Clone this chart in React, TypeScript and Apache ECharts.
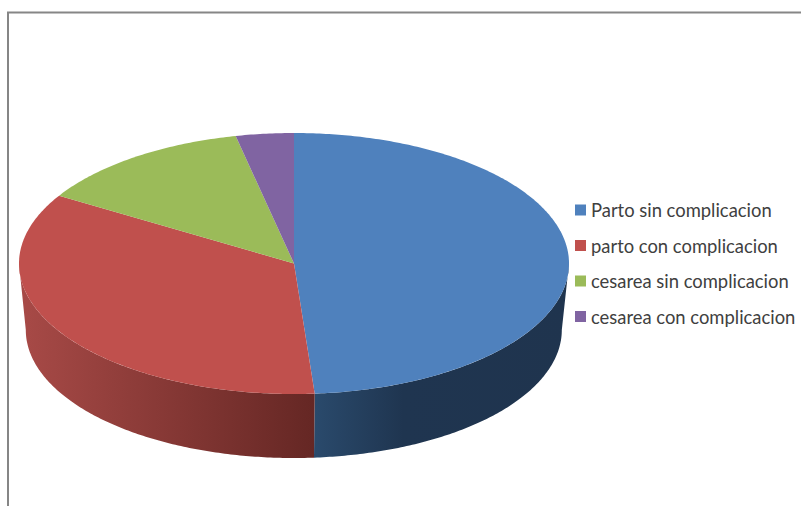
import React, { useEffect, useRef } from "react";
import * as echarts from "echarts";

const categories = [
  "Parto sin complicacion",
  "parto con complicacion",
  "cesarea sin complicacion",
  "cesarea con complicacion",
];
const values = [48.8, 34.9, 12.9, 3.4];
const colors = ["#4F81BD", "#C0504D", "#9BBB59", "#8064A2"];
const wallStops = [
  [[0, "#2A4A6C"], [0.35, "#1F3550"], [1, "#1F344E"]],
  [[0, "#A84A47"], [1, "#652724"]],
  [[0, "#7A8E44"], [1, "#7A8E44"]],
  [[0, "#5F4A7A"], [1, "#5F4A7A"]],
];

const TOP = { cx: 294, cy: 263.5, rx: 275, ry: 130.5 };
const BOTTOM = { cx: 293.8, cy: 330, rx: 268, ry: 128 };
const total = values.reduce((a, b) => a + b, 0);

function pt(e: typeof TOP, deg: number) {
  const r = (deg * Math.PI) / 180;
  return [e.cx + e.rx * Math.sin(r), e.cy - e.ry * Math.cos(r)];
}
function arc(e: typeof TOP, a: number, b: number) {
  const n = Math.max(2, Math.ceil(Math.abs(b - a) * 1.5));
  const out: number[][] = [];
  for (let i = 0; i <= n; i++) out.push(pt(e, a + ((b - a) * i) / n));
  return out;
}

function renderSlice(index: number) {
  return (_params: any, api: any) => {
    const before = values.slice(0, index).reduce((a, b) => a + b, 0);
    const start = (before / total) * 360;
    const end = start + (api.value(0) / total) * 360;
    const children: any[] = [];
    const a = Math.max(start, 90);
    const b = Math.min(end, 270);
    if (b > a) {
      children.push({
        type: "polygon",
        shape: { points: [...arc(TOP, a, b), ...arc(BOTTOM, b, a)] },
        style: {
          fill: new echarts.graphic.LinearGradient(
            0, 0, 1, 0,
            wallStops[index].map(([offset, color]) => ({ offset, color })) as any
          ),
        },
      });
    }
    children.push({
      type: "polygon",
      shape: { points: [[TOP.cx, TOP.cy], ...arc(TOP, start, end)] },
      style: { fill: colors[index] },
    });
    return { type: "group", children };
  };
}

export default function App() {
  const ref = useRef<HTMLDivElement>(null);
  useEffect(() => {
    document.body.style.margin = "0";
    const chart = echarts.init(ref.current!, null, { renderer: "svg" });
    chart.setOption({
      animation: false,
      backgroundColor: "#FFFFFF",
      color: colors,
      legend: {
        orient: "vertical",
        left: 570,
        top: 195,
        itemWidth: 11,
        itemHeight: 11,
        itemGap: 15.5,
        icon: "rect",
        selectedMode: false,
        data: categories,
        textStyle: {
          fontFamily: "Lato",
          fontSize: 18.4,
          color: "#404040",
          padding: [0, 0, 0, 0],
          lineHeight: 20,
        },
      },
      graphic: [
        {
          type: "polyline",
          silent: true,
          shape: { points: [[8, 506], [8, 12.5], [801, 12.5]] },
          style: { stroke: "#868686", lineWidth: 2, fill: "none" },
        },
      ],
      series: categories.map((name, i) => ({
        type: "custom",
        name,
        coordinateSystem: "none",
        silent: true,
        renderItem: renderSlice(i),
        data: [[values[i]]],
        encode: { value: 0 },
      })),
    });
    return () => chart.dispose();
  }, []);
  return <div ref={ref} style={{ width: 801, height: 506 }} />;
}
